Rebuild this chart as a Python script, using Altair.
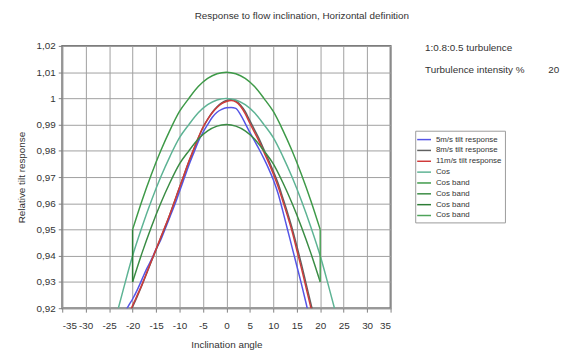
import altair as alt
import pandas as pd

FONT = "Liberation Sans"

# ---- series names / colours (legend order) ----
names = ["5m/s tilt response", "8m/s tilt response", "11m/s tilt response", "Cos",
         "Cos band", "Cos band ", "Cos band  ", "Cos band   "]
colors = ["#5555e6", "#606060", "#d03a3a", "#5db394",
          "#3e9a48", "#3a8c44", "#2d7d36", "#4ea35a"]

# ---- data ----
ang_5 = list(range(-22, 19))
resp_5 = [0.917, 0.9205, 0.9235, 0.927, 0.931, 0.935, 0.9385, 0.9425, 0.946, 0.9505,
          0.955, 0.9595, 0.9645, 0.9695, 0.9745, 0.979, 0.9835, 0.987, 0.990, 0.9928,
          0.9947, 0.9958, 0.9964, 0.9965, 0.9962, 0.9938, 0.9905, 0.987, 0.9838, 0.9805,
          0.977, 0.9732, 0.969, 0.9638, 0.9572, 0.9502, 0.9432, 0.9362, 0.9292, 0.9218,
          0.914]

ang_8 = list(range(-21, 20))
resp_8 = [0.9165, 0.9205, 0.9245, 0.9288, 0.9332, 0.9378, 0.9422, 0.9468, 0.9512, 0.956,
          0.961, 0.966, 0.971, 0.9758, 0.9803, 0.9848, 0.9888, 0.992, 0.9947, 0.9968,
          0.9983, 0.9992, 0.9995, 0.999, 0.9975, 0.995, 0.9915, 0.988, 0.9845, 0.9805,
          0.9765, 0.9722, 0.9677, 0.9622, 0.9566, 0.9506, 0.9438, 0.9368, 0.9293, 0.9218,
          0.9145]

ang_11 = list(range(-21, 20))
resp_11 = [0.917, 0.921, 0.925, 0.929, 0.9335, 0.938, 0.9425, 0.947, 0.9515, 0.956,
           0.961, 0.966, 0.971, 0.976, 0.9805, 0.985, 0.989, 0.992, 0.9945, 0.9965,
           0.998, 0.9988, 0.9992, 0.9987, 0.997, 0.9942, 0.9905, 0.987, 0.9835, 0.9795,
           0.9755, 0.9712, 0.9665, 0.961, 0.9553, 0.9493, 0.9422, 0.9352, 0.9277, 0.9202,
           0.913]

cos_ang = list(range(-24, 25, 2))
cos_val = [0.9135, 0.927, 0.940, 0.951, 0.961, 0.970, 0.978, 0.985, 0.990, 0.9945,
           0.9976, 0.9994, 1.000, 0.9994, 0.9976, 0.9945, 0.990, 0.985, 0.978, 0.970,
           0.961, 0.951, 0.940, 0.927, 0.9135]

band_ang = list(range(-20, 21, 2))
band_up = [0.950, 0.961, 0.971, 0.980, 0.988, 0.995, 1.000, 1.0045, 1.0076, 1.0094,
           1.010, 1.0094, 1.0076, 1.0045, 1.000, 0.995, 0.988, 0.980, 0.971, 0.961, 0.950]
band_lo = [0.930, 0.941, 0.951, 0.960, 0.968, 0.975, 0.980, 0.9845, 0.9876, 0.9894,
           0.990, 0.9894, 0.9876, 0.9845, 0.980, 0.975, 0.968, 0.960, 0.951, 0.941, 0.930]

edge_left_ang = [-20, -20]
edge_right_ang = [20, 20]
edge_val = [0.93, 0.95]

x_ticks = [-35, -30, -25, -20, -15, -10, -5, 0, 5, 10, 15, 20, 25, 30, 35]
y_ticks = [0.92, 0.93, 0.94, 0.95, 0.96, 0.97, 0.98, 0.99, 1.00, 1.01, 1.02]

title_text = "Response to flow inclination, Horizontal definition"
note1 = "1:0.8:0.5 turbulence"
note2 = "Turbulence intensity %"
note3 = "20"


def rows(name, xs, ys):
    return [{"series": name, "x": a, "y": b, "i": k} for k, (a, b) in enumerate(zip(xs, ys))]


curve_rows = (rows(names[0], ang_5, resp_5) + rows(names[1], ang_8, resp_8)
              + rows(names[2], ang_11, resp_11) + rows(names[3], cos_ang, cos_val)
              + rows(names[4], band_ang, band_up) + rows(names[5], band_ang, band_lo))
edge_rows = rows(names[6], edge_left_ang, edge_val) + rows(names[7], edge_right_ang, edge_val)

curves = pd.DataFrame(curve_rows)
edges = pd.DataFrame(edge_rows)

x_enc = alt.X("x:Q", scale=alt.Scale(domain=[-35, 35], nice=False, zero=False),
              axis=alt.Axis(values=x_ticks, title="Inclination angle", grid=True,
                            tickSize=4, labelPadding=9, titlePadding=9, labelOverlap=False,
                            labelExpr="datum.value < 0 ? '-' + abs(datum.value) : '' + datum.value"))
y_enc = alt.Y("y:Q", scale=alt.Scale(domain=[0.92, 1.02], nice=False, zero=False),
              axis=alt.Axis(values=y_ticks, title="Relative tilt response", grid=True,
                            tickSize=4, labelPadding=3, titlePadding=10, labelOverlap=False,
                            labelExpr="abs(datum.value - 1) < 0.0001 ? '1' : replace(format(datum.value, '.2f'), '.', ',')"))
color_enc = alt.Color("series:N", scale=alt.Scale(domain=names, range=colors),
                      legend=alt.Legend(title=None, orient="none", legendX=358, legendY=86,
                                        symbolType="M-1.4,0L1.4,0", symbolSize=100,
                                        symbolStrokeWidth=1.5, labelFontSize=8,
                                        labelOffset=6, rowPadding=1, padding=3,
                                        strokeColor="#9a9a9a", fillColor="white",
                                        labelColor="#333", labelFont=FONT))

curve_layer = alt.Chart(curves).mark_line(strokeWidth=1.5, interpolate="monotone", clip=True).encode(
    x=x_enc, y=y_enc, color=color_enc, order=alt.Order("i:Q"))
edge_layer = alt.Chart(edges).mark_line(strokeWidth=1.5, clip=True).encode(
    x=x_enc, y=y_enc, color=color_enc, order=alt.Order("i:Q"))

txt = dict(font=FONT, fontSize=10, color="#333")
title_layer = alt.Chart(pd.DataFrame({"t": [title_text]})).mark_text(align="center", baseline="middle", **txt).encode(
    text="t:N", x=alt.value(243), y=alt.value(-30))
note1_layer = alt.Chart(pd.DataFrame({"t": [note1]})).mark_text(align="left", baseline="middle", **txt).encode(
    text="t:N", x=alt.value(368), y=alt.value(2))
note2_layer = alt.Chart(pd.DataFrame({"t": [note2]})).mark_text(align="left", baseline="middle", **txt).encode(
    text="t:N", x=alt.value(368), y=alt.value(24))
note3_layer = alt.Chart(pd.DataFrame({"t": [note3]})).mark_text(align="left", baseline="middle", **txt).encode(
    text="t:N", x=alt.value(493), y=alt.value(24))

chart = alt.layer(curve_layer, edge_layer, title_layer, note1_layer, note2_layer, note3_layer).properties(
    width=333, height=266, autosize="none",
    padding={"left": 55, "top": 36, "right": 184, "bottom": 44},
    background="white",
).configure_view(
    stroke="#7a7a7a", strokeWidth=2
).configure_axis(
    domain=False, gridColor="#a0a0a0", gridWidth=1, tickColor="#808080",
    labelFont=FONT, titleFont=FONT, labelFontSize=10, titleFontSize=10,
    titleFontWeight="normal", labelColor="#333", titleColor="#333"
)

chart.save("out.html", embed_options={"renderer": "svg", "actions": False})
